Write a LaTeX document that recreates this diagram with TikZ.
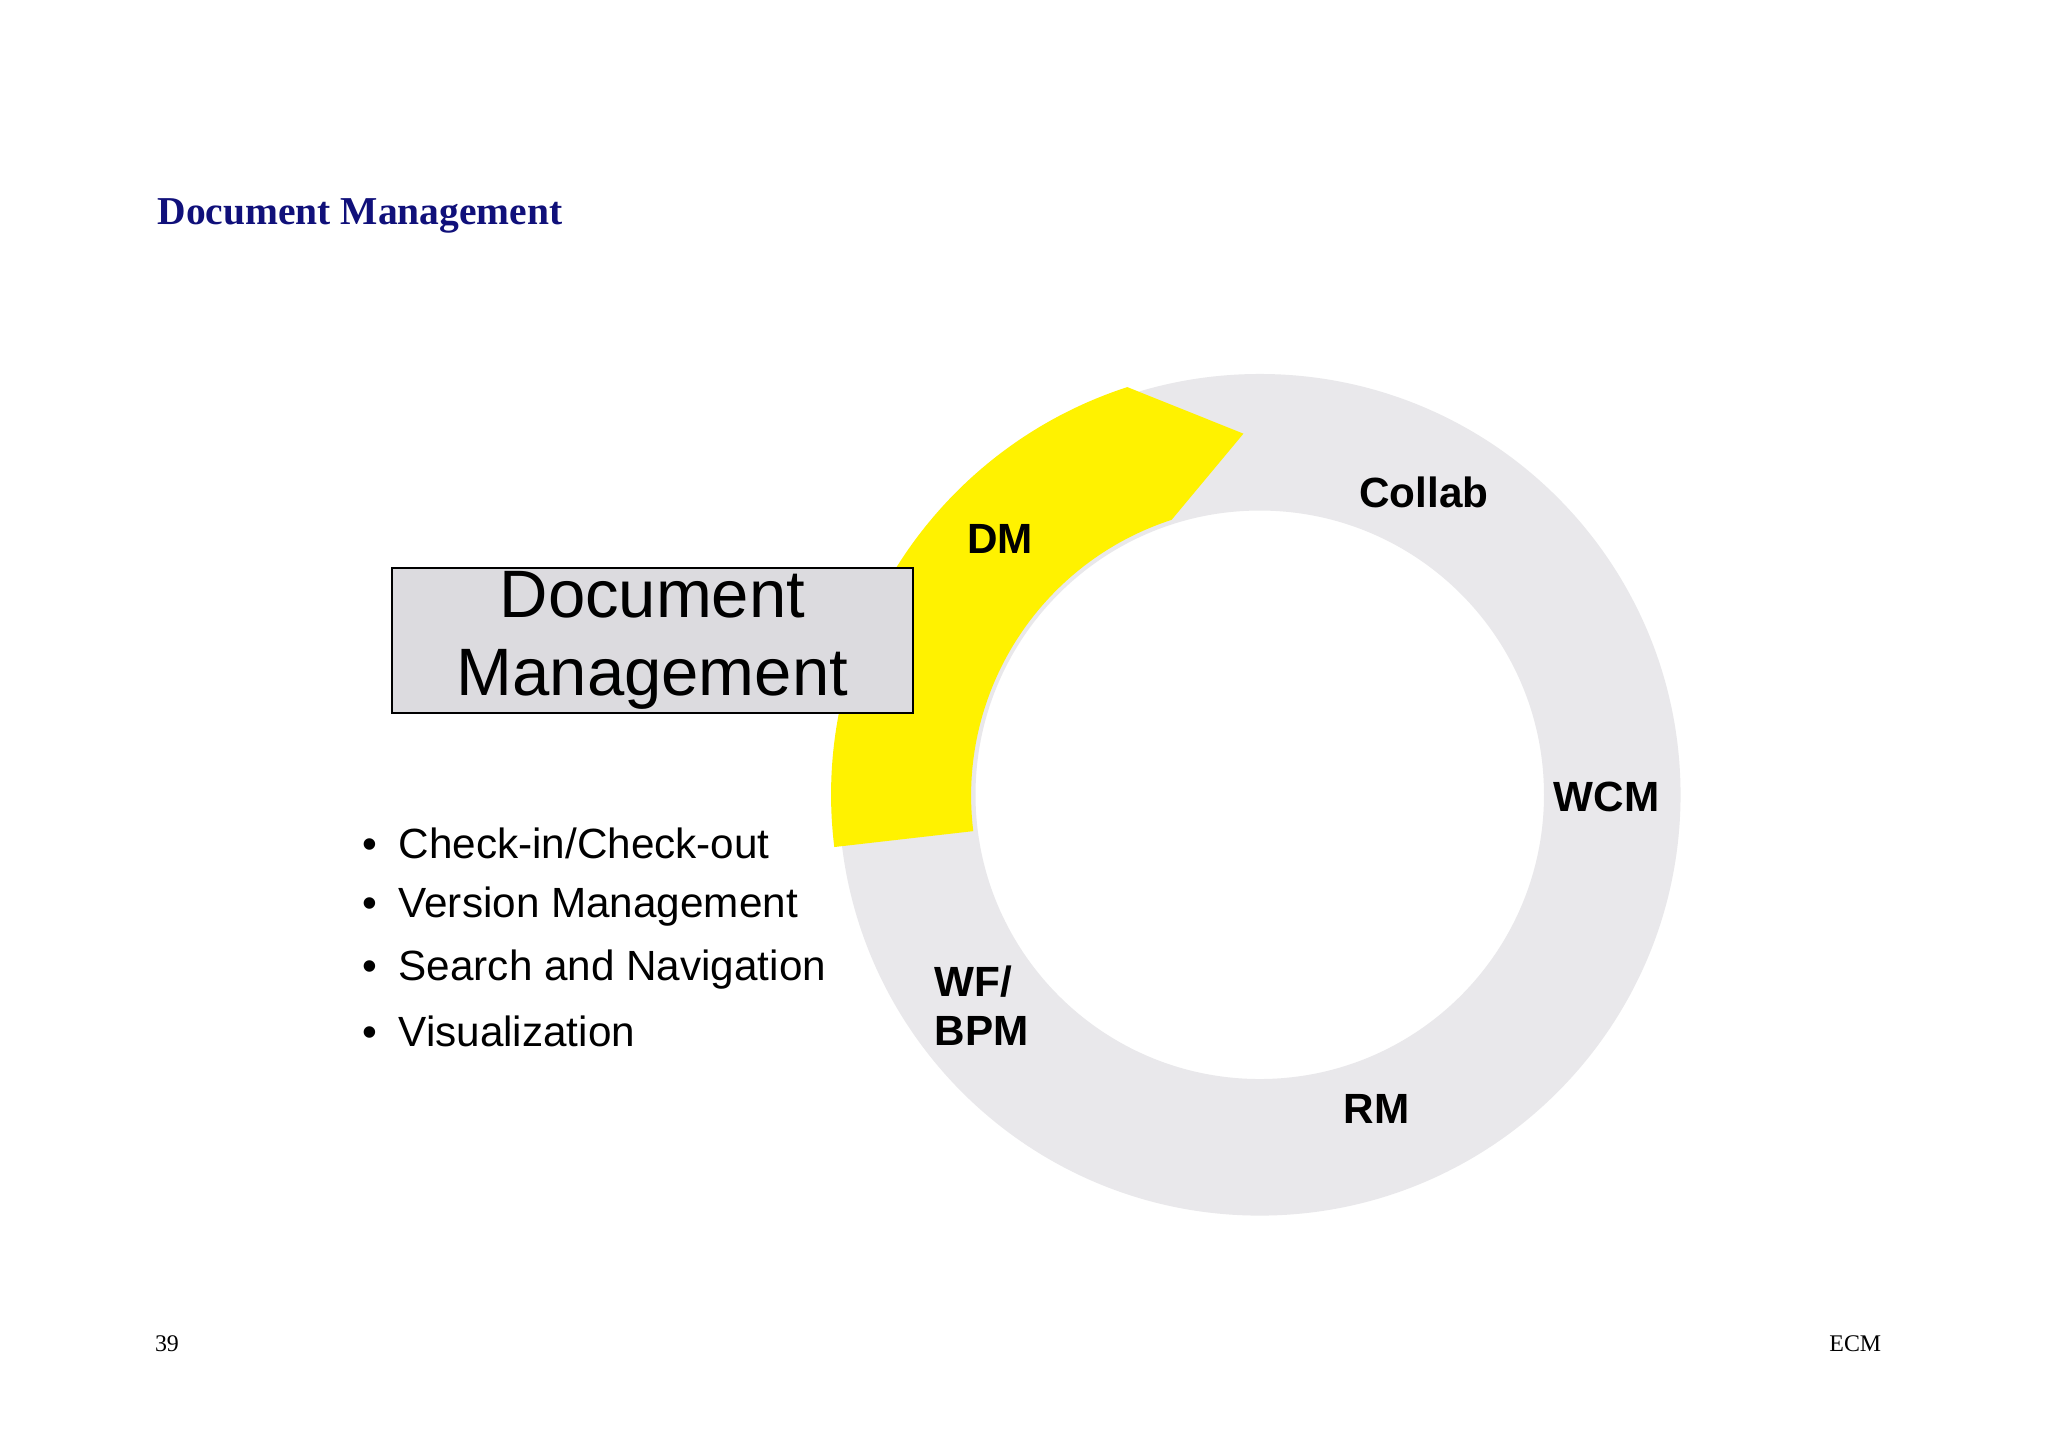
\documentclass[tikz,border=0pt]{standalone}
\usepackage{fontspec}
\setmainfont{Liberation Serif}
\setsansfont{Liberation Sans}
\begin{document}
\begin{tikzpicture}[x=0.01cm,y=-0.01cm,
  lbl/.style={font=\sffamily\bfseries\fontsize{9.2}{10.5}\selectfont,anchor=west,align=left,inner sep=0},
  bul/.style={font=\sffamily\fontsize{9.2}{10}\selectfont,anchor=west,inner sep=0}]
\useasboundingbox (0,0) rectangle (1568,1108);
\fill[white] (0,0) rectangle (1568,1108);
\definecolor{ring}{HTML}{E9E8EB}
\definecolor{navy}{HTML}{10107A}
\coordinate (c) at (964.5,608.5);
\fill[ring,even odd rule] (c) circle[radius=3.22cm] (c) circle[radius=2.175cm];
\fill[yellow] ([shift={(187:3.28cm)}]c) arc[start angle=187,end angle=108,radius=3.28cm] -- (952,332) -- (897,398) arc[start angle=108,end angle=187,radius=2.22cm] -- cycle;
\node[font=\bfseries\fontsize{8.6}{10}\selectfont,text=navy,anchor=west,inner sep=0] (t) at (120,165) {Document Management};
\node[draw=black,fill={rgb,255:red,220;green,219;blue,223},minimum width=3.99cm,minimum height=1.11cm,inner sep=0,align=center,font=\sffamily\fontsize{14.6}{17}\selectfont] (box) at (499.5,490.5) {Document\\Management};
\node[lbl] (dm) at (740,413) {DM};
\node[lbl] (col) at (1040,377) {Collab};
\node[lbl] (wcm) at (1189,610) {WCM};
\node[lbl] (rm) at (1028,849) {RM};
\node[lbl] (wf) at (715,770) {WF/\\BPM};
\node[bul] (b1) at (277,646) {•\hspace{0.5em}Check-in/Check-out};
\node[bul] (b2) at (277,694) {•\hspace{0.5em}Version Management};
\node[bul] (b3) at (277,742) {•\hspace{0.5em}Search and Navigation};
\node[bul] (b4) at (277,790) {•\hspace{0.5em}Visualization};
\node[font=\fontsize{5.2}{6}\selectfont,anchor=west,inner sep=0] (pg) at (118,1029) {39};
\node[font=\fontsize{5.2}{6}\selectfont,anchor=east,inner sep=0] (ecm) at (1441,1029) {ECM};
\end{tikzpicture}
\end{document}
